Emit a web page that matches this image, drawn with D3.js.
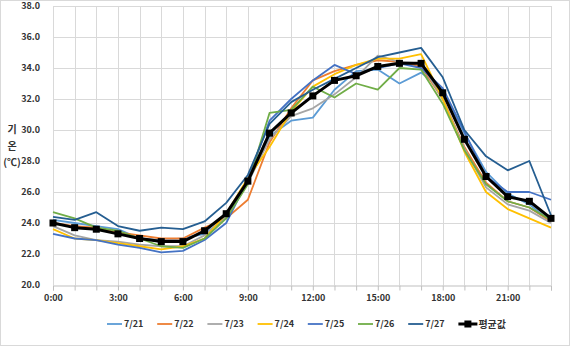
<!DOCTYPE html>
<html>
<head>
<meta charset="utf-8">
<script src="https://cdn.jsdelivr.net/npm/d3@7"></script>
<style>
  body { margin: 0; background: #fff; }
  svg { display: block; }
</style>
</head>
<body>
<script>
// Hourly air temperature (°C), 21–27 July, plus the daily average
const hours = d3.range(24);
const hourLabels = ["0:00", "3:00", "6:00", "9:00", "12:00", "15:00", "18:00", "21:00"];
const yTicks = [20, 22, 24, 26, 28, 30, 32, 34, 36, 38];

const seriesNames = ["7/21", "7/22", "7/23", "7/24", "7/25", "7/26", "7/27"];
const seriesColors = ["#5B9BD5", "#ED7D31", "#A5A5A5", "#FFC000", "#4472C4", "#70AD47", "#255E91"];

const t0721 = [24.2, 24.0, 23.8, 23.6, 23.0, 22.9, 23.0, 23.3, 24.3, 26.6, 29.6, 30.6, 30.8, 32.6, 33.8, 33.9, 33.0, 33.7, 32.6, 29.8, 27.3, 25.9, 25.2, 24.1];
const t0722 = [24.0, 23.8, 23.7, 23.4, 23.2, 23.0, 23.0, 23.7, 24.3, 25.5, 29.2, 31.4, 33.2, 33.8, 34.2, 34.5, 34.4, 34.1, 32.0, 28.9, 26.6, 25.4, 25.0, 24.1];
const t0723 = [23.8, 23.2, 22.9, 22.8, 22.6, 22.5, 22.5, 23.2, 24.4, 26.6, 29.4, 30.9, 31.4, 32.3, 33.4, 34.8, 34.4, 34.3, 32.0, 28.8, 26.3, 25.2, 24.8, 24.0];
const t0724 = [23.6, 23.0, 22.9, 22.7, 22.5, 22.3, 22.5, 23.0, 24.6, 26.9, 28.9, 31.2, 32.8, 33.6, 34.2, 34.6, 34.6, 34.9, 32.0, 28.6, 26.0, 24.9, 24.3, 23.7];
const t0725 = [23.3, 23.0, 22.9, 22.6, 22.4, 22.1, 22.2, 22.9, 24.0, 26.8, 30.6, 32.0, 33.2, 34.2, 33.6, 34.0, 34.3, 34.0, 32.7, 29.9, 27.0, 26.0, 26.0, 25.5];
const t0726 = [24.7, 24.3, 23.7, 23.5, 23.0, 22.5, 22.4, 23.0, 24.3, 26.5, 31.1, 31.3, 32.8, 32.1, 33.0, 32.6, 34.0, 33.9, 31.7, 28.7, 26.5, 25.4, 25.0, 24.2];
const t0727 = [24.4, 24.2, 24.7, 23.8, 23.5, 23.7, 23.6, 24.1, 25.3, 27.1, 30.4, 31.8, 32.6, 33.3, 34.0, 34.7, 35.0, 35.3, 33.4, 30.0, 28.3, 27.4, 28.0, 24.5];
const tAverage = [24.0, 23.7, 23.6, 23.3, 23.0, 22.8, 22.8, 23.5, 24.6, 26.7, 29.8, 31.1, 32.2, 33.2, 33.5, 34.1, 34.3, 34.3, 32.4, 29.4, 27.0, 25.7, 25.4, 24.3];

const seriesValues = [t0721, t0722, t0723, t0724, t0725, t0726, t0727];

const W = 570, H = 346;
const FONT = "'Noto Sans CJK KR', 'Noto Sans', sans-serif";
const TEXT = "#333";

const svg = d3.select("body").append("svg").attr("width", W).attr("height", H);

// chart area border
svg.append("rect").attr("x", 0.5).attr("y", 0.5).attr("width", W - 1).attr("height", H - 1)
  .attr("fill", "#fff").attr("stroke", "#d9d9d9");

const x = d3.scaleLinear().domain([0, 23]).range([53, 551]);
const y = d3.scaleLinear().domain([20, 38]).range([285, 6]);

// horizontal gridlines
svg.append("g")
  .selectAll("line").data(yTicks.filter(v => v > 20)).join("line")
  .attr("x1", x(0)).attr("x2", x(23))
  .attr("y1", d => Math.round(y(d)) + 0.5).attr("y2", d => Math.round(y(d)) + 0.5)
  .attr("stroke", "#d9d9d9").attr("stroke-width", 1);

// vertical gridlines, one per hour
svg.append("g")
  .selectAll("line").data(hours).join("line")
  .attr("x1", d => Math.round(x(d)) + 0.5).attr("x2", d => Math.round(x(d)) + 0.5)
  .attr("y1", y(38)).attr("y2", y(20))
  .attr("stroke", "#d9d9d9").attr("stroke-width", 1);

// x axis
const xAxis = d3.axisBottom(x)
  .tickValues(hours)
  .tickSize(5)
  .tickPadding(4)
  .tickFormat(d => d % 3 === 0 ? hourLabels[d / 3] : "");
const gx = svg.append("g").attr("transform", `translate(0,${Math.round(y(20)) + 0.5})`).call(xAxis);
gx.select(".domain").attr("stroke", "#bfbfbf");
gx.selectAll(".tick line").attr("stroke", "#bfbfbf");
gx.selectAll(".tick text")
  .attr("font-family", FONT).attr("font-size", 9).attr("font-weight", "bold").attr("fill", TEXT);

// y axis labels
const yAxis = d3.axisLeft(y).tickValues(yTicks).tickSize(0).tickPadding(13).tickFormat(d3.format(".1f"));
const gy = svg.append("g").attr("transform", `translate(${x(0)},0)`).call(yAxis);
gy.select(".domain").remove();
gy.selectAll(".tick text")
  .attr("font-family", FONT).attr("font-size", 9).attr("font-weight", "bold").attr("fill", TEXT);

// y axis title, stacked vertically
const title = svg.append("text").attr("font-family", FONT).attr("font-size", 10)
  .attr("font-weight", "bold").attr("fill", TEXT).attr("text-anchor", "middle");
[["기", 133], ["온", 150], ["(℃)", 166]].forEach(([s, ty]) => {
  title.append("tspan").attr("x", 12).attr("y", ty).text(s);
});

// daily series
const line = d3.line().x((d, i) => x(i)).y(d => y(d));
svg.append("g")
  .selectAll("path").data(seriesValues).join("path")
  .attr("d", d => line(d))
  .attr("fill", "none")
  .attr("stroke", (d, i) => seriesColors[i])
  .attr("stroke-width", 1.8)
  .attr("stroke-linejoin", "round");

// average
svg.append("path").attr("d", line(tAverage))
  .attr("fill", "none").attr("stroke", "#000").attr("stroke-width", 3).attr("stroke-linejoin", "round");
svg.append("g").selectAll("rect").data(tAverage).join("rect")
  .attr("x", (d, i) => x(i) - 3.5).attr("y", d => y(d) - 3.5)
  .attr("width", 7).attr("height", 7).attr("fill", "#000");

// legend
const legend = svg.append("g").attr("transform", "translate(107,324)");
const legendItems = seriesNames.map((n, i) => ({ name: n, color: seriesColors[i], avg: false }))
  .concat([{ name: "평균값", color: "#000", avg: true }]);
const li = legend.selectAll("g").data(legendItems).join("g")
  .attr("transform", (d, i) => `translate(${i * 50.2},0)`);
li.append("line").attr("x1", 0).attr("x2", d => d.avg ? 19 : 15).attr("y1", 0).attr("y2", 0)
  .attr("stroke", d => d.color).attr("stroke-width", d => d.avg ? 3 : 1.8);
li.filter(d => d.avg).append("rect").attr("x", 6).attr("y", -3.5).attr("width", 7).attr("height", 7).attr("fill", "#000");
li.append("text").attr("x", d => d.avg ? 20 : 17).attr("y", 0).attr("dy", "0.35em")
  .attr("font-family", FONT).attr("font-size", d => d.avg ? 10 : 9).attr("font-weight", "bold")
  .attr("fill", TEXT).text(d => d.name);
</script>
</body>
</html>
